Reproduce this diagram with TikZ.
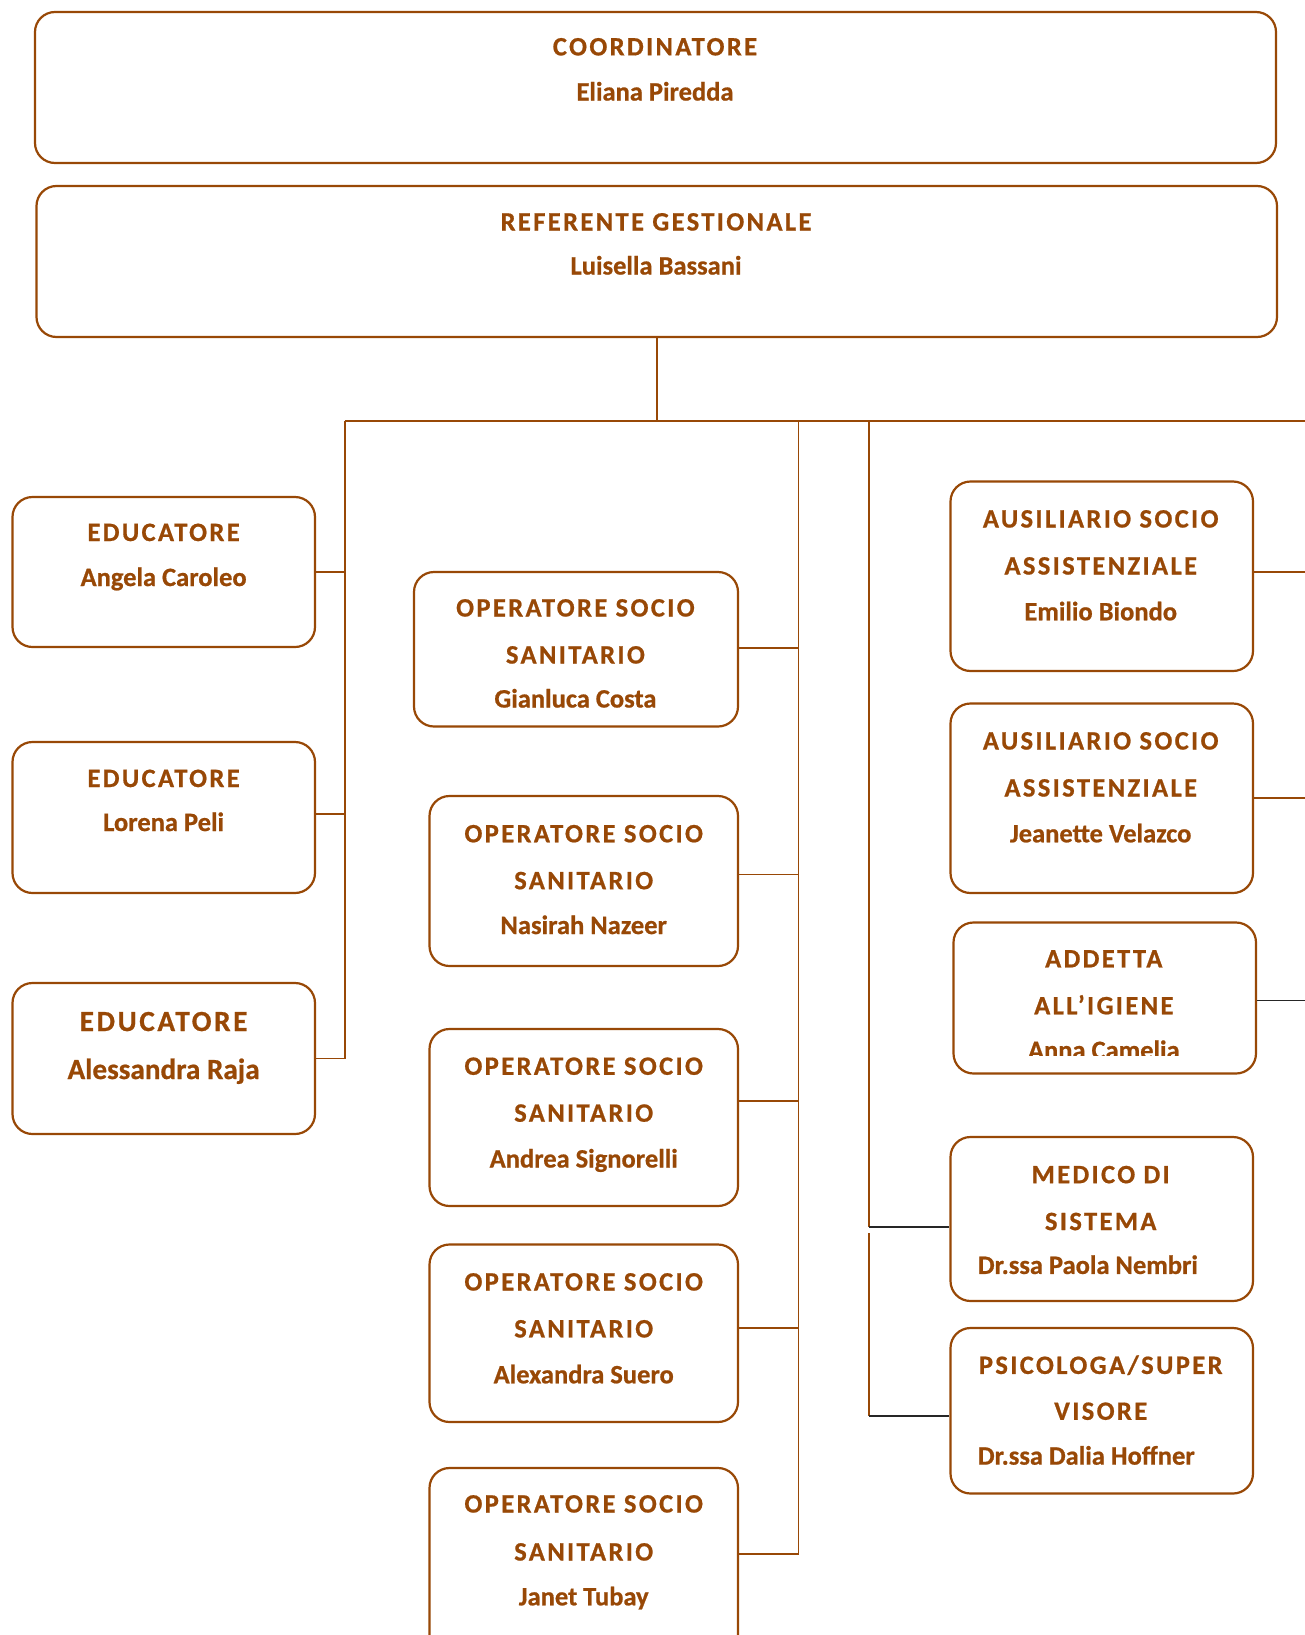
\documentclass[tikz,border=0pt]{standalone}
\usepackage{fontspec}
\setmainfont{Carlito}[FakeBold=0.7]
\newfontfamily\ttlfont{Carlito}[LetterSpace=9, FakeBold=0.7]
\usetikzlibrary{fit}
\definecolor{brn}{RGB}{152,72,6}
\tikzset{
  box/.style={draw=brn, line width=2.2bp, rounded corners=20bp, inner sep=0pt},
  ttl/.style={text=brn, font=\ttlfont\bfseries\fontsize{26.5bp}{30bp}\selectfont, anchor=base, inner sep=0pt},
  nm/.style={text=brn, font=\bfseries\fontsize{26.5bp}{30bp}\selectfont, anchor=base, inner sep=0pt},
  bigttl/.style={ttl, font=\ttlfont\bfseries\fontsize{29.2bp}{33bp}\selectfont},
  bignm/.style={nm, font=\bfseries\fontsize{29.2bp}{33bp}\selectfont},
  link/.style={draw=brn, line width=1.8bp},
  blink/.style={draw=black!85, line width=1.5bp}
}
\begin{document}
\begin{tikzpicture}[x=1bp,y=-1bp]
\clip (0,0) rectangle (1305,1635);
\fill[white] (0,0) rectangle (1305,1635);
% boxes
\node[box, fit={(35,12) (1276,163)}] (coord) {};
\node[box, fit={(36.5,186) (1277,337)}] (ref) {};
\node[box, fit={(12.5,497) (315,647)}] (e1) {};
\node[box, fit={(12.5,742) (315,893)}] (e2) {};
\node[box, fit={(12.5,983) (315,1134)}] (e3) {};
\node[box, fit={(414,572) (738,726.5)}] (o1) {};
\node[box, fit={(429.5,796) (738,966)}] (o2) {};
\node[box, fit={(429.5,1029) (738,1206)}] (o3) {};
\node[box, fit={(429.5,1244.5) (738,1422)}] (o4) {};
\node[box, fit={(429.5,1468) (738,1700)}] (o5) {};
\node[box, fit={(950.5,481.5) (1253,671)}] (a1) {};
\node[box, fit={(950.5,703.5) (1253,893)}] (a2) {};
\node[box, fit={(953.5,922.5) (1256,1073.5)}] (ad) {};
\node[box, fit={(950.5,1137) (1253,1301)}] (med) {};
\node[box, fit={(950.5,1328) (1253,1493.5)}] (psi) {};
% texts
\node[ttl] (t-coord) at (655,55.4) {COORDINATORE};
\node[nm] (n-coord) at (655,100.5) {Eliana Piredda};
\node[ttl] (t-ref) at (656,230.5) {REFERENTE GESTIONALE};
\node[nm] (n-ref) at (656,274.5) {Luisella Bassani};
\node[ttl] (t-e1) at (163.6,541) {EDUCATORE};
\node[nm] (n-e1) at (163.6,586) {Angela Caroleo};
\node[ttl] (t-e2) at (163.6,787) {EDUCATORE};
\node[nm] (n-e2) at (163.6,831) {Lorena Peli};
\node[bigttl] (t-e3) at (163.6,1031) {EDUCATORE};
\node[bignm] (n-e3) at (163.6,1079) {Alessandra Raja};
\node[ttl] (t1-o1) at (575.4,616.5) {OPERATORE SOCIO};
\node[ttl] (t2-o1) at (575.4,663.5) {SANITARIO};
\node[nm] (n-o1) at (575.4,707.5) {Gianluca Costa};
\node[ttl] (t1-o2) at (583.7,842.3) {OPERATORE SOCIO};
\node[ttl] (t2-o2) at (583.7,889.2) {SANITARIO};
\node[nm] (n-o2) at (583.7,934) {Nasirah Nazeer};
\node[ttl] (t1-o3) at (583.7,1074.8) {OPERATORE SOCIO};
\node[ttl] (t2-o3) at (583.7,1121.7) {SANITARIO};
\node[nm] (n-o3) at (583.7,1167.5) {Andrea Signorelli};
\node[ttl] (t1-o4) at (583.7,1290.5) {OPERATORE SOCIO};
\node[ttl] (t2-o4) at (583.7,1337.4) {SANITARIO};
\node[nm] (n-o4) at (583.7,1383.3) {Alexandra Suero};
\node[ttl] (t1-o5) at (583.7,1512.5) {OPERATORE SOCIO};
\node[ttl] (t2-o5) at (583.7,1560.5) {SANITARIO};
\node[nm] (n-o5) at (583.7,1605.3) {Janet Tubay};
\node[ttl] (t1-a1) at (1100.7,527.5) {AUSILIARIO SOCIO};
\node[ttl] (t2-a1) at (1100.7,574.5) {ASSISTENZIALE};
\node[nm] (n-a1) at (1100.7,620.3) {Emilio Biondo};
\node[ttl] (t1-a2) at (1100.7,749.5) {AUSILIARIO SOCIO};
\node[ttl] (t2-a2) at (1100.7,796.5) {ASSISTENZIALE};
\node[nm] (n-a2) at (1100.7,842.3) {Jeanette Velazco};
\node[ttl] (t1-ad) at (1103.8,967.4) {ADDETTA};
\node[ttl] (t2-ad) at (1103.8,1014.3) {ALL’IGIENE};
\begin{scope}
\clip (950,1030) rectangle (1260,1055.5);
\node[nm] (n-ad) at (1103.8,1059) {Anna Camelia};
\end{scope}
\node[ttl] (t1-med) at (1100.7,1183.2) {MEDICO DI};
\node[ttl] (t2-med) at (1100.7,1230.1) {SISTEMA};
\node[nm, anchor=base west] (n-med) at (977.7,1273.9) {Dr.ssa Paola Nembri};
\node[ttl] (t1-psi) at (1100.7,1373.9) {PSICOLOGA/SUPER};
\node[ttl] (t2-psi) at (1100.7,1419.8) {VISORE};
\node[nm, anchor=base west] (n-psi) at (977.7,1464.6) {Dr.ssa Dalia Hoffner};
% connector coordinates
\coordinate (hl) at (345,421);
\coordinate (hr) at (1310,421);
\coordinate (mt) at (798.4,421);
\coordinate (mb) at (798.4,1554);
\coordinate (rt) at (869.3,421);
\coordinate (rm) at (869.3,1227);
\coordinate (rm2) at (869.3,1233);
\coordinate (rb) at (869.3,1416);
\coordinate (ee) at (1310,0);
% connectors
\draw[link] (ref.south) -- (ref.south |- hl);
\draw[link] (hl) -- (hr);
\draw[link] (e3.east) -| (hl);
\draw[link] (e1.east) -- (e1.east -| hl);
\draw[link] ([yshift=3.5bp]e2.east) -- ([yshift=3.5bp]e2.east -| hl);
\draw[link] (mt) -- (mb) -- (mb -| o5.east);
\draw[link] ([yshift=1bp]o1.east) -- ([yshift=1bp]o1.east -| mt);
\draw[link] ([yshift=6.5bp]o2.east) -- ([yshift=6.5bp]o2.east -| mt);
\draw[link] ([yshift=16.8bp]o3.east) -- ([yshift=16.8bp]o3.east -| mt);
\draw[link] ([yshift=5.3bp]o4.east) -- ([yshift=5.3bp]o4.east -| mt);
\draw[link] (rt) -- (rm);
\draw[blink] (rm) -- (rm -| med.west);
\draw[link] (rm2) -- (rb);
\draw[blink] (rb) -- (rb -| psi.west);
\draw[link] ([yshift=4bp]a1.east) -- ([yshift=4bp]a1.east -| ee);
\draw[link] (a2.east) -- (a2.east -| ee);
\draw[blink] ([yshift=-2.5bp]ad.east) -- ([yshift=-2.5bp]ad.east -| ee);
\end{tikzpicture}
\end{document}
